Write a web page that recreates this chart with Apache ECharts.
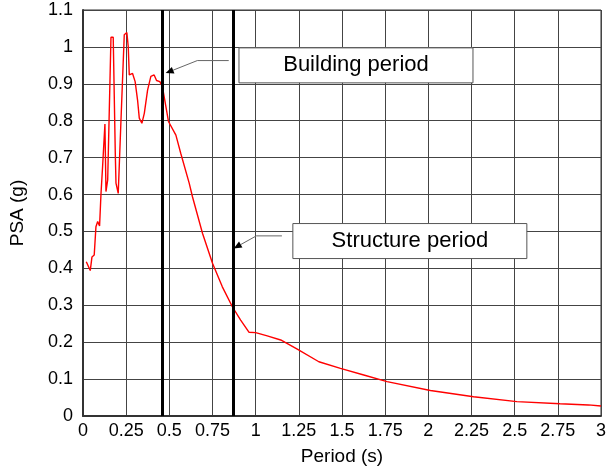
<!DOCTYPE html>
<html>
<head>
<meta charset="utf-8">
<script src="https://cdn.jsdelivr.net/npm/echarts@6/dist/echarts.min.js"></script>
<style>
  html, body { margin: 0; padding: 0; background: #fff; }
  #chart { width: 609px; height: 473px; }
</style>
</head>
<body>
<div id="chart"></div>
<script>
// spectrum values
const period = [0.019, 0.042, 0.052, 0.065, 0.075, 0.085, 0.096, 0.104, 0.114, 0.127, 0.133, 0.143,
  0.162, 0.175, 0.187, 0.191, 0.204, 0.220, 0.239, 0.254, 0.262, 0.268, 0.287, 0.302, 0.316, 0.326,
  0.341, 0.355, 0.374, 0.393, 0.412, 0.426, 0.445, 0.460, 0.470, 0.495, 0.538, 0.566, 0.615, 0.634,
  0.692, 0.750, 0.807, 0.865, 0.913, 0.961, 1.0, 1.067, 1.145, 1.241, 1.366, 1.491, 1.626, 1.761,
  2.012, 2.262, 2.513, 2.763, 2.927, 3.0]
const psa = [0.418, 0.394, 0.431, 0.436, 0.513, 0.527, 0.515, 0.60, 0.68, 0.791, 0.608, 0.640,
  1.026, 1.026, 0.712, 0.631, 0.603, 0.802, 1.033, 1.039, 1.001, 0.924, 0.928, 0.906, 0.856, 0.807,
  0.793, 0.820, 0.883, 0.920, 0.924, 0.909, 0.906, 0.892, 0.865, 0.798, 0.761, 0.712, 0.631, 0.594,
  0.495, 0.414, 0.350, 0.296, 0.260, 0.227, 0.226, 0.217, 0.206, 0.181, 0.147, 0.129, 0.111, 0.093,
  0.069, 0.052, 0.039, 0.033, 0.030, 0.027]

// building and structure periods (vertical lines)
const markPeriods = [0.46, 0.87]

// annotation boxes: text, box centre and arrow path (data units)
const noteText = ['Building period', 'Structure period']
const noteBox = [[1.581, 0.950], [1.893, 0.474]]
const notePath = [
  [[0.844, 0.963], [0.662, 0.963], [0.479, 0.929]],
  [[1.152, 0.488], [1.004, 0.488], [0.873, 0.454]]
]

const FONT = '"Liberation Sans", Arial, sans-serif'
const fmt = v => String(+v.toFixed(2))

const chart = echarts.init(document.getElementById('chart'))

chart.setOption({
  animation: false,
  backgroundColor: '#fff',
  textStyle: { fontFamily: FONT },
  grid: { left: 82, top: 10, right: 7, bottom: 57, show: true, borderColor: '#333', borderWidth: 1 },
  xAxis: {
    type: 'value', min: 0, max: 3, interval: 0.25,
    name: 'Period (s)', nameLocation: 'middle', nameGap: 31,
    nameTextStyle: { fontSize: 19, color: '#000', fontFamily: FONT },
    axisLine: { lineStyle: { color: '#333', width: 2 } },
    axisTick: { show: false },
    axisLabel: { formatter: fmt, fontSize: 18, color: '#000', margin: 6, fontFamily: FONT },
    splitLine: { show: true, lineStyle: { color: '#444', width: 1 } }
  },
  yAxis: {
    type: 'value', min: 0, max: 1.1, interval: 0.1,
    name: 'PSA (g)', nameLocation: 'middle', nameGap: 56,
    nameTextStyle: { fontSize: 19, color: '#000', fontFamily: FONT },
    axisLine: { show: true, lineStyle: { color: '#333', width: 2 } },
    axisTick: { show: false },
    axisLabel: { formatter: fmt, fontSize: 18, color: '#000', margin: 10, fontFamily: FONT },
    splitLine: { show: true, lineStyle: { color: '#444', width: 1 } }
  },
  series: [
    {
      type: 'line',
      data: period.map((t, i) => [t, psa[i]]),
      symbol: 'none',
      lineStyle: { color: '#ff0000', width: 1.4 },
      markLine: {
        silent: true,
        symbol: ['none', 'none'],
        label: { show: false },
        lineStyle: { color: '#000', width: 3, type: 'solid' },
        data: markPeriods.map(p => ({ xAxis: p }))
      },
      z: 2
    },
    {
      type: 'custom',
      clip: false,
      z: 5,
      data: noteBox,
      renderItem: (params, api) => {
        const i = params.dataIndex
        const c = api.coord(noteBox[i])
        const pts = notePath[i].map(p => api.coord(p))
        const tip = pts[pts.length - 1]
        const prev = pts[pts.length - 2]
        const a = Math.atan2(tip[1] - prev[1], tip[0] - prev[0])
        const L = 8, W = 3.5
        const bx = tip[0] - L * Math.cos(a), by = tip[1] - L * Math.sin(a)
        const head = [
          tip,
          [bx + W * Math.sin(a), by - W * Math.cos(a)],
          [bx - W * Math.sin(a), by + W * Math.cos(a)]
        ]
        const w = 234, h = 35
        return {
          type: 'group',
          children: [
            { type: 'rect', shape: { x: c[0] - w / 2, y: c[1] - h / 2, width: w, height: h },
              style: { fill: '#fff', stroke: '#555', lineWidth: 1 } },
            { type: 'text', style: { text: noteText[i], x: c[0], y: c[1], align: 'center',
              verticalAlign: 'middle', fontSize: 22, fontFamily: FONT, fill: '#000' } },
            { type: 'polyline', shape: { points: pts.slice(0, -1).concat([[bx, by]]) },
              style: { stroke: '#666', lineWidth: 1, fill: null } },
            { type: 'polygon', shape: { points: head }, style: { fill: '#000' } }
          ]
        }
      }
    }
  ]
})
</script>
</body>
</html>
